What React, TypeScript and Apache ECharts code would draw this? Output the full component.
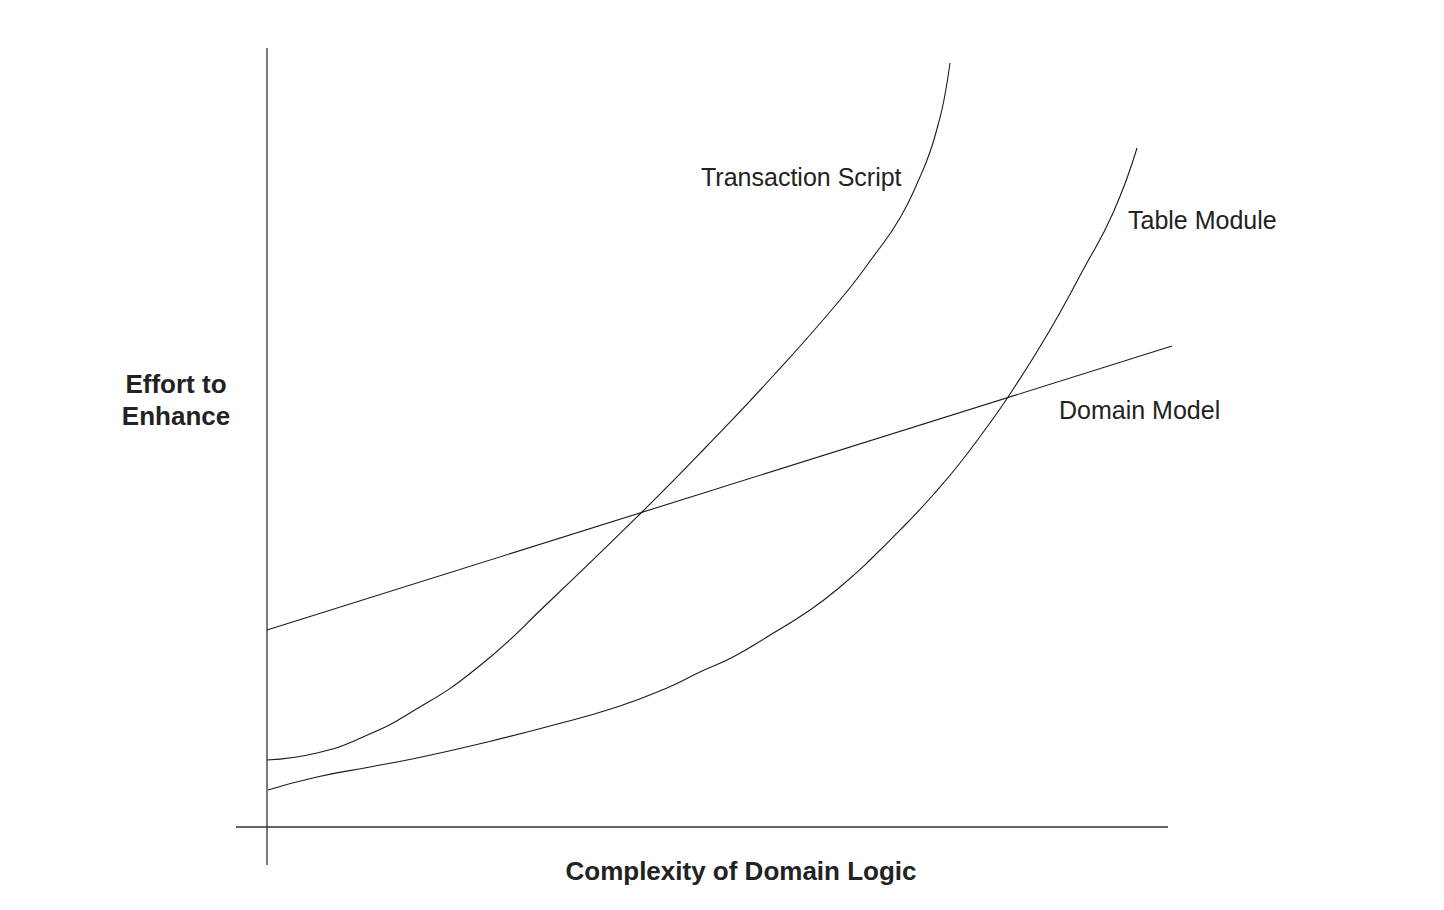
import React, { useEffect, useRef } from "react";
import * as echarts from "echarts";

// Units: x = complexity, y = effort (arbitrary units)
const domainModel: [number, number][] = [
  [0, 197],
  [905, 481],
];

const transactionScript: [number, number][] = [
  [0, 67], [50, 74], [96, 90], [143, 114], [210, 159], [283, 226], [376, 316],
  [440, 381], [506, 451], [573, 527], [606, 570], [633, 609], [653, 650],
  [663, 675], [671, 702], [677, 727], [683, 764],
];

const tableModule: [number, number][] = [
  [1, 37], [50, 50], [103, 60], [150, 69], [216, 84], [283, 101], [350, 120],
  [400, 139], [433, 155], [466, 170], [500, 190], [543, 217], [573, 240],
  [603, 267], [640, 304], [666, 332], [693, 364], [720, 400], [743, 433],
  [783, 497], [816, 557], [846, 614], [870, 679],
];

const yAxisLine: [number, number][] = [
  [0, -38],
  [0, 779],
];
const xAxisLine: [number, number][] = [
  [-31, 0],
  [901, 0],
];

const xTitle = "Complexity of Domain Logic";
const yTitle = "Effort to\nEnhance";
const labels = {
  ts: "Transaction Script",
  tm: "Table Module",
  dm: "Domain Model",
};

export default function App() {
  const ref = useRef<HTMLDivElement>(null);
  useEffect(() => {
    if (!ref.current) return;
    const chart = echarts.init(ref.current, undefined, { renderer: "svg" });
    const lineStyle = { color: "#1a1a1a", width: 1.1 };
    const font = "'Liberation Sans', Arial, Helvetica, sans-serif";
    chart.setOption({
      animation: false,
      backgroundColor: "#ffffff",
      grid: { left: 236, right: 272, top: 48, bottom: 45 },
      xAxis: {
        type: "value",
        min: -31,
        max: 905,
        show: false,
      },
      yAxis: {
        type: "value",
        min: -38,
        max: 779,
        show: false,
      },
      series: [
        {
          type: "line",
          data: yAxisLine,
          symbol: "none",
          lineStyle: { color: "#333", width: 1.3 },
        },
        {
          type: "line",
          data: xAxisLine,
          symbol: "none",
          lineStyle: { color: "#333", width: 1.3 },
        },
        {
          name: labels.dm,
          type: "line",
          data: domainModel,
          symbol: "none",
          lineStyle,
        },
        {
          name: labels.ts,
          type: "line",
          data: transactionScript,
          symbol: "none",
          smooth: 0.5,
          lineStyle,
        },
        {
          name: labels.tm,
          type: "line",
          data: tableModule,
          symbol: "none",
          smooth: 0.5,
          lineStyle,
        },
      ],
      graphic: [
        {
          type: "text",
          x: 701,
          y: 177,
          style: {
            text: labels.ts,
            font: `25px ${font}`,
            fill: "#222",
            verticalAlign: "middle",
            align: "left",
          },
        },
        {
          type: "text",
          x: 1128,
          y: 220,
          style: {
            text: labels.tm,
            font: `25px ${font}`,
            fill: "#222",
            verticalAlign: "middle",
            align: "left",
          },
        },
        {
          type: "text",
          x: 1059,
          y: 410,
          style: {
            text: labels.dm,
            font: `25px ${font}`,
            fill: "#222",
            verticalAlign: "middle",
            align: "left",
          },
        },
        {
          type: "text",
          x: 741,
          y: 871,
          style: {
            text: xTitle,
            font: `bold 26px ${font}`,
            fill: "#222",
            verticalAlign: "middle",
            align: "center",
          },
        },
        {
          type: "text",
          x: 176,
          y: 400,
          style: {
            text: yTitle,
            font: `bold 26px ${font}`,
            lineHeight: 32,
            fill: "#222",
            verticalAlign: "middle",
            align: "center",
          },
        },
      ],
    });
    return () => chart.dispose();
  }, []);
  return (
    <div
      ref={ref}
      style={{ position: "fixed", left: 0, top: 0, width: 1444, height: 910 }}
    />
  );
}
